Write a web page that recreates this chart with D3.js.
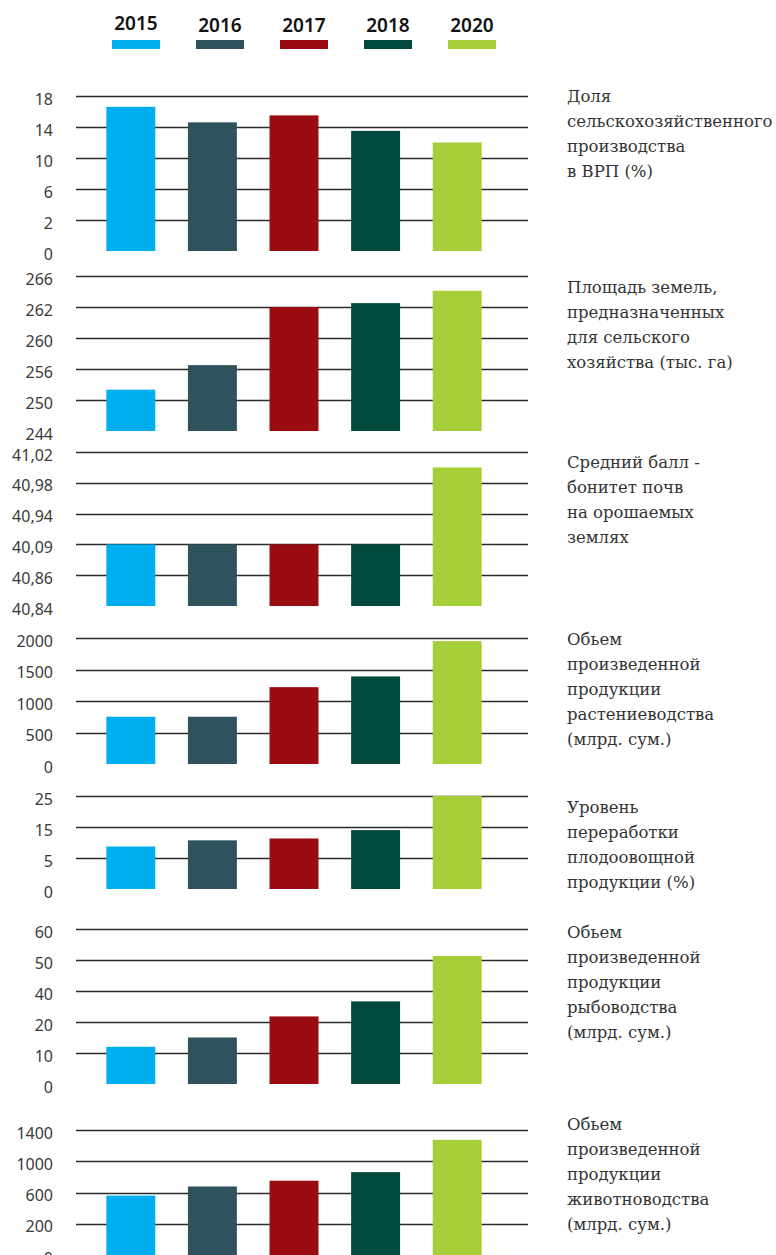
<!DOCTYPE html>
<html>
<head>
<meta charset="utf-8">
<script src="https://cdn.jsdelivr.net/npm/d3@7"></script>
<style>
  html, body { margin: 0; padding: 0; background: #fff; }
  svg { display: block; }
</style>
</head>
<body>
<svg id="chart" width="776" height="1255"></svg>
<script>
const years = ["2015", "2016", "2017", "2018", "2020"];
const yearColors = ["#00aeef", "#2f535c", "#9b0b12", "#024a3d", "#a6ce39"];

// each panel: tick values (evenly spaced on screen), tick labels, bar values, title lines
const shareTicks = [0, 2, 6, 10, 14, 18];
const shareLabels = ["0", "2", "6", "10", "14", "18"];
const shareValues = [16.6, 14.6, 15.5, 13.5, 12.0];
const shareTitle = ["Доля", "сельскохозяйственного", "производства", "в ВРП (%)"];

const landTicks = [244, 250, 256, 260, 262, 266];
const landLabels = ["244", "250", "256", "260", "262", "266"];
const landValues = [252, 256.5, 262, 262.5, 264.1];
const landTitle = ["Площадь земель,", "предназначенных", "для сельского", "хозяйства (тыс. га)"];

const soilTicks = [40.84, 40.86, 40.90, 40.94, 40.98, 41.02];
const soilLabels = ["40,84", "40,86", "40,09", "40,94", "40,98", "41,02"];
const soilValues = [40.90, 40.90, 40.90, 40.90, 41.00];
const soilTitle = ["Средний балл -", "бонитет почв", "на орошаемых", "землях"];

const cropTicks = [0, 500, 1000, 1500, 2000];
const cropLabels = ["0", "500", "1000", "1500", "2000"];
const cropValues = [750, 750, 1220, 1390, 1950];
const cropTitle = ["Обьем", "произведенной", "продукции", "растениеводства", "(млрд. сум.)"];

const procTicks = [0, 5, 15, 25];
const procLabels = ["0", "5", "15", "25"];
const procValues = [8.7, 10.7, 11.3, 14, 25];
const procTitle = ["Уровень", "переработки", "плодоовощной", "продукции (%)"];

const fishTicks = [0, 10, 20, 40, 50, 60];
const fishLabels = ["0", "10", "20", "40", "50", "60"];
const fishValues = [12, 15, 23.6, 33.3, 51.3];
const fishTitle = ["Обьем", "произведенной", "продукции", "рыбоводства", "(млрд. сум.)"];

const liveTicks = [0, 200, 600, 1000, 1400];
const liveLabels = ["0", "200", "600", "1000", "1400"];
const liveValues = [560, 677, 751, 861, 1274];
const liveTitle = ["Обьем", "произведенной", "продукции", "животноводства", "(млрд. сум.)"];

const panels = [
  { ticks: shareTicks, labels: shareLabels, values: shareValues, title: shareTitle },
  { ticks: landTicks, labels: landLabels, values: landValues, title: landTitle },
  { ticks: soilTicks, labels: soilLabels, values: soilValues, title: soilTitle },
  { ticks: cropTicks, labels: cropLabels, values: cropValues, title: cropTitle },
  { ticks: procTicks, labels: procLabels, values: procValues, title: procTitle },
  { ticks: fishTicks, labels: fishLabels, values: fishValues, title: fishTitle },
  { ticks: liveTicks, labels: liveLabels, values: liveValues, title: liveTitle }
];

// layout: screen top/bottom of each panel and baseline of its title
const panelLayout = [
  { top: 96, bottom: 251, titleY: 102 },
  { top: 276, bottom: 431, titleY: 293 },
  { top: 452, bottom: 606, titleY: 468 },
  { top: 638, bottom: 764, titleY: 645 },
  { top: 796, bottom: 889, titleY: 813 },
  { top: 929, bottom: 1084, titleY: 938 },
  { top: 1130, bottom: 1255, titleY: 1130 }
];

const gridLeft = 76, gridRight = 528;
const titleX = 567;
const tickFont = "'Noto Sans', sans-serif";
const titleFont = "'DejaVu Serif', serif";

const svg = d3.select("#chart");

const color = d3.scaleOrdinal().domain(years).range(yearColors);

const x = d3.scaleBand()
  .domain(years)
  .range([90, 498])
  .paddingInner(0.4)
  .paddingOuter(0.2);

// Legend
const legendX = d3.scaleBand().domain(years).range([112, 496]).paddingInner(0.4286).paddingOuter(0);
const legend = svg.append("g").attr("class", "legend");
legend.selectAll("rect")
  .data(years)
  .enter()
  .append("rect")
  .attr("x", d => legendX(d))
  .attr("y", 40)
  .attr("width", legendX.bandwidth())
  .attr("height", 9)
  .attr("fill", d => color(d));
legend.selectAll("text")
  .data(years)
  .enter()
  .append("text")
  .attr("x", d => legendX(d) + legendX.bandwidth() / 2)
  .attr("y", (d, i) => i === 0 ? 30 : 32)
  .attr("text-anchor", "middle")
  .style("font-family", tickFont)
  .style("font-size", "19px")
  .style("font-weight", "600")
  .attr("fill", "#111")
  .text(d => d);

// Panels
panels.forEach((p, pi) => {
  const lay = panelLayout[pi];
  const n = p.ticks.length;
  // piecewise scale: ticks sit at evenly spaced positions
  const y = d3.scaleLinear()
    .domain(p.ticks)
    .range(p.ticks.map((t, i) => lay.bottom - (lay.bottom - lay.top) * i / (n - 1)));

  const g = svg.append("g").attr("class", "panel");

  // grid lines (no line at the base)
  g.selectAll("line.grid")
    .data(p.ticks.slice(1))
    .enter()
    .append("line")
    .attr("class", "grid")
    .attr("x1", gridLeft)
    .attr("x2", gridRight)
    .attr("y1", d => Math.round(y(d)) + 0.5)
    .attr("y2", d => Math.round(y(d)) + 0.5)
    .attr("stroke", "#2b2b2b")
    .attr("stroke-width", 1.6);

  // bars
  g.selectAll("rect.bar")
    .data(p.values)
    .enter()
    .append("rect")
    .attr("class", "bar")
    .attr("x", (d, i) => x(years[i]))
    .attr("width", x.bandwidth())
    .attr("y", d => y(d))
    .attr("height", d => y(p.ticks[0]) - y(d))
    .attr("fill", (d, i) => color(years[i]));

  // tick labels
  const axis = d3.axisLeft(y)
    .tickValues(p.ticks)
    .tickFormat((d, i) => p.labels[i])
    .tickSize(0)
    .tickPadding(0);
  const ag = g.append("g")
    .attr("transform", "translate(53,0)")
    .call(axis);
  ag.select(".domain").remove();
  ag.selectAll("text")
    .attr("y", 3)
    .style("font-family", tickFont)
    .style("font-size", "16px")
    .attr("fill", "#3a3a3a");

  // title
  const t = g.append("text")
    .attr("x", titleX)
    .attr("y", lay.titleY)
    .style("font-family", titleFont)
    .style("font-size", "16.5px")
    .attr("fill", "#333");
  t.selectAll("tspan")
    .data(p.title)
    .enter()
    .append("tspan")
    .attr("x", titleX)
    .attr("dy", (d, i) => i === 0 ? 0 : 25)
    .text(d => d);
});
</script>
</body>
</html>
